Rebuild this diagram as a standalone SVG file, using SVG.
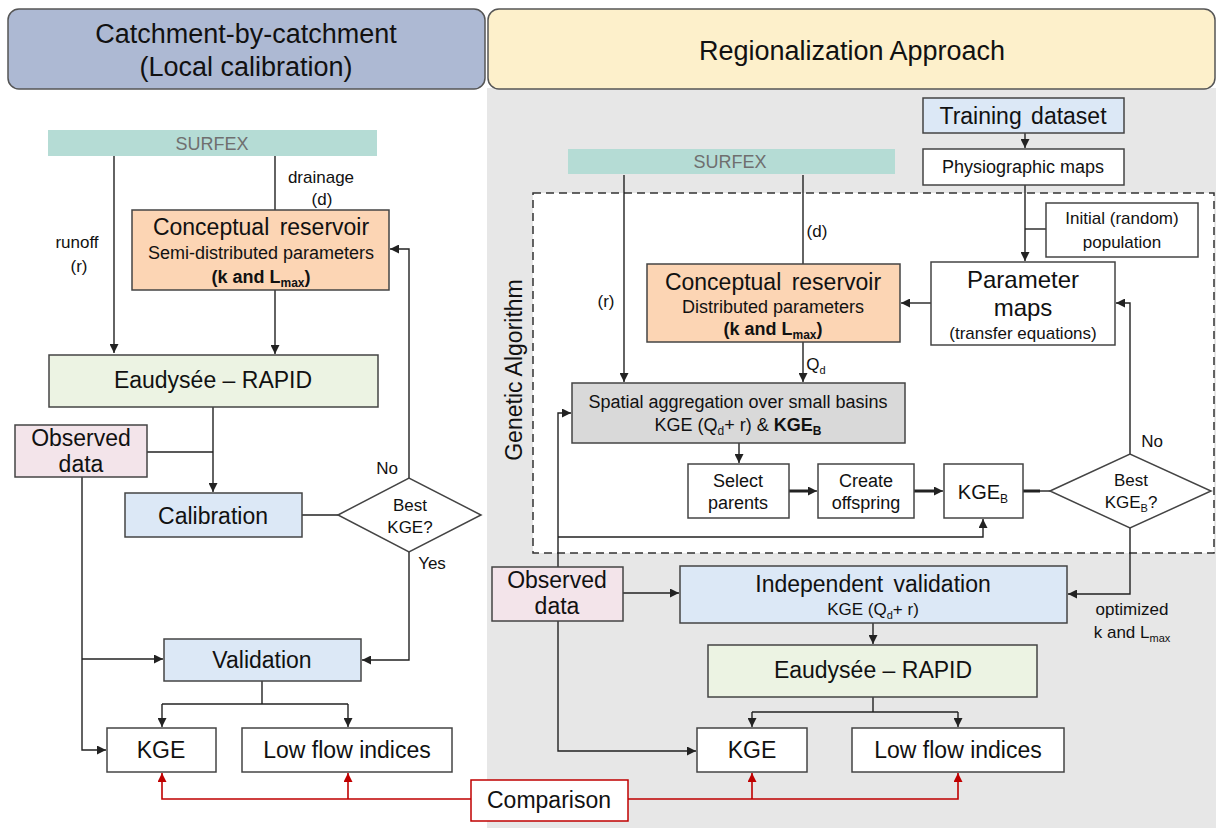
<svg xmlns="http://www.w3.org/2000/svg" width="1216" height="828" viewBox="0 0 1216 828">
<defs>
<marker id="ah" viewBox="0 0 10 10" refX="10" refY="5" markerWidth="9" markerHeight="9" markerUnits="userSpaceOnUse" orient="auto"><path d="M0,0 L10,5 L0,10 z" fill="#222"/></marker>
<marker id="ahr" viewBox="0 0 10 10" refX="10" refY="5" markerWidth="9" markerHeight="9" markerUnits="userSpaceOnUse" orient="auto"><path d="M0,0 L10,5 L0,10 z" fill="#c00000"/></marker>
<style>
text{font-family:"Liberation Sans",Arial,sans-serif;fill:#111;text-anchor:middle}
.box{stroke:#444;stroke-width:1.5}
.hdr{stroke:#555;stroke-width:1.5}
.c{fill:none;stroke:#222;stroke-width:1.4}
.ct{fill:none;stroke:#222;stroke-width:3}
.r{fill:none;stroke:#c00000;stroke-width:1.6}
.f27{font-size:27px}
.f23{font-size:23px}
.f24{font-size:24px}
.f20{font-size:20px}
.f18{font-size:18px}
.f17{font-size:17px}
.b{font-weight:bold}
.sx{font-size:18px;fill:#6f6f6f}
</style>
</defs>
<rect x="0" y="0" width="1216" height="828" fill="#ffffff"/>
<rect x="487" y="88" width="729" height="740" fill="#e7e7e7"/>

<g id="header-left"><rect class="hdr" x="8" y="9" width="477" height="80" rx="11" fill="#adb9d3"/><text class="f27" x="246" y="43">Catchment-by-catchment</text><text class="f27" x="246" y="76">(Local calibration)</text></g>
<g id="header-right"><rect class="hdr" x="488" y="9" width="727" height="80" rx="11" fill="#fdf0cb"/><text class="f27" x="852" y="60">Regionalization Approach</text></g>

<rect id="ga-frame" x="533" y="193" width="681" height="360" fill="#ffffff" stroke="#333" stroke-width="1.5" stroke-dasharray="8,5"/>
<text class="f23" transform="translate(522,370) rotate(-90)">Genetic Algorithm</text>

<g id="connectors">
<path class="c" d="M114 156 V353" marker-end="url(#ah)"/>
<path class="c" d="M275 156 V210"/>
<path class="c" d="M275 290 V354" marker-end="url(#ah)"/>
<path class="c" d="M213 407 V492" marker-end="url(#ah)"/>
<path class="c" d="M147 452 H213"/>
<path class="c" d="M302 515 H338"/>
<path class="c" d="M409 478 V249 H390" marker-end="url(#ah)"/>
<path class="c" d="M409 552 V660 H362" marker-end="url(#ah)"/>
<path class="c" d="M82 477 V750 H106" marker-end="url(#ah)"/>
<path class="c" d="M82 659 H163" marker-end="url(#ah)"/>
<path class="c" d="M262 681 V704"/>
<path class="c" d="M162 704 H348"/>
<path class="c" d="M162 704 V727" marker-end="url(#ah)"/>
<path class="c" d="M348 704 V727" marker-end="url(#ah)"/>
<path class="c" d="M624 175 V382" marker-end="url(#ah)"/>
<path class="c" d="M803 175 V264"/>
<path class="c" d="M803 342 V382" marker-end="url(#ah)"/>
<path class="c" d="M1025 133 V148" marker-end="url(#ah)"/>
<path class="c" d="M1025 185 V261" marker-end="url(#ah)"/>
<path class="c" d="M1046 229 H1025"/>
<path class="c" d="M931 303 H901" marker-end="url(#ah)"/>
<path class="c" d="M739 443 V463" marker-end="url(#ah)"/>
<path class="ct" d="M789 491 H810"/>
<path class="c" d="M805 491 H817" marker-end="url(#ah)"/>
<path class="ct" d="M914 491 H936"/>
<path class="c" d="M930 491 H943" marker-end="url(#ah)"/>
<path class="ct" d="M1023 491 H1040" stroke="#555"/>
<path class="c" d="M1038 491 H1050"/>
<path class="c" d="M1130 454 V303 H1116" marker-end="url(#ah)"/>
<path class="c" d="M1130 528 V594 H1068" marker-end="url(#ah)"/>
<path class="c" d="M558 567 V413 H571" marker-end="url(#ah)"/>
<path class="c" d="M558 537 H983 V519" marker-end="url(#ah)"/>
<path class="c" d="M623 593 H679" marker-end="url(#ah)"/>
<path class="c" d="M873 623 V644" marker-end="url(#ah)"/>
<path class="c" d="M558 621 V751 H696" marker-end="url(#ah)"/>
<path class="c" d="M873 697 V712"/>
<path class="c" d="M752 712 H958"/>
<path class="c" d="M752 712 V727" marker-end="url(#ah)"/>
<path class="c" d="M958 712 V727" marker-end="url(#ah)"/>
<path class="r" d="M471 799 H162 V773" marker-end="url(#ahr)"/>
<path class="r" d="M348 799 V773" marker-end="url(#ahr)"/>
<path class="r" d="M628 799 H958 V773" marker-end="url(#ahr)"/>
<path class="r" d="M752 799 V773" marker-end="url(#ahr)"/>
</g>

<g id="labels">
<text class="f17" x="77" y="248">runoff</text><text class="f17" x="79" y="272">(r)</text>
<text class="f17" x="321" y="183">drainage</text><text class="f17" x="322" y="205">(d)</text>
<text class="f17" x="387" y="474">No</text>
<text class="f17" x="432" y="569">Yes</text>
<text class="f17" x="606" y="307">(r)</text>
<text class="f17" x="817" y="237">(d)</text>
<text class="f17" x="816" y="370">Q<tspan font-size="11" dy="4">d</tspan></text>
<text class="f17" x="1152" y="447">No</text>
<text class="f17" x="1132" y="615">optimized</text>
<text class="f17" x="1132" y="638">k and L<tspan font-size="11" dy="4">max</tspan></text>
</g>

<g id="surfex-left"><rect x="48" y="130" width="329" height="26" fill="#b5dcd5"/><text class="sx" x="212" y="150">SURFEX</text></g>
<g id="reservoir-left"><rect class="box" x="132" y="210" width="257" height="80" fill="#fcd5b4"/><text class="f23" x="261" y="235" word-spacing="4">Conceptual reservoir</text><text class="f18" x="261" y="259">Semi-distributed parameters</text><text class="f18 b" x="261" y="283">(k and L<tspan font-size="12" dy="4">max</tspan><tspan dy="-4">)</tspan></text></g>
<g id="eaudysee-left"><rect class="box" x="49" y="355" width="329" height="52" fill="#ecf3e3"/><text class="f23" x="213" y="388">Eaudysée – RAPID</text></g>
<g id="observed-left"><rect class="box" x="15" y="425" width="132" height="52" fill="#f3e4ea"/><text class="f23" x="81" y="446">Observed</text><text class="f23" x="81" y="472">data</text></g>
<g id="calibration"><rect class="box" x="125" y="493" width="177" height="44" fill="#dce8f6"/><text class="f23" x="213" y="524">Calibration</text></g>
<g id="decision-left"><path class="box" d="M338 515 L409 478 L481 515 L409 552 Z" fill="#ffffff"/><text class="f17" x="410" y="511">Best</text><text class="f17" x="410" y="533">KGE?</text></g>
<g id="validation"><rect class="box" x="164" y="639" width="197" height="42" fill="#dce8f6"/><text class="f23" x="262" y="668">Validation</text></g>
<g id="kge-left"><rect class="box" x="107" y="728" width="109" height="44" fill="#ffffff"/><text class="f23" x="161" y="758">KGE</text></g>
<g id="lowflow-left"><rect class="box" x="242" y="728" width="210" height="44" fill="#ffffff"/><text class="f23" x="347" y="758">Low flow indices</text></g>
<g id="comparison"><rect x="471" y="780" width="157" height="41" fill="#ffffff" stroke="#c00000" stroke-width="1.5"/><text class="f23" x="549" y="808">Comparison</text></g>

<g id="training"><rect class="box" x="923" y="98" width="201" height="35" fill="#dce8f6"/><text class="f23" x="1023" y="124" word-spacing="3">Training dataset</text></g>
<g id="physio"><rect class="box" x="923" y="149" width="201" height="36" fill="#ffffff"/><text class="f18" x="1023" y="173">Physiographic maps</text></g>
<g id="initial"><rect class="box" x="1046" y="203" width="152" height="54" fill="#ffffff"/><text class="f17" x="1122" y="224">Initial (random)</text><text class="f17" x="1122" y="248">population</text></g>
<g id="surfex-right"><rect x="568" y="149" width="327" height="25" fill="#b5dcd5"/><text class="sx" x="730" y="168">SURFEX</text></g>
<g id="reservoir-right"><rect class="box" x="647" y="264" width="253" height="78" fill="#fcd5b4"/><text class="f23" x="773" y="290" word-spacing="4">Conceptual reservoir</text><text class="f18" x="773" y="313">Distributed parameters</text><text class="f18 b" x="773" y="335">(k and L<tspan font-size="12" dy="4">max</tspan><tspan dy="-4">)</tspan></text></g>
<g id="parammaps"><rect class="box" x="931" y="262" width="184" height="83" fill="#ffffff"/><text class="f24" x="1023" y="288">Parameter</text><text class="f24" x="1023" y="316">maps</text><text class="f17" x="1023" y="339">(transfer equations)</text></g>
<g id="spatial"><rect class="box" x="572" y="383" width="333" height="60" fill="#d9d9d9"/><text class="f18" x="738" y="408">Spatial aggregation over small basins</text><text class="f18" x="738" y="431">KGE (Q<tspan font-size="12" dy="4">d</tspan><tspan dy="-4">+ r) &amp; </tspan><tspan class="b">KGE</tspan><tspan class="b" font-size="12" dy="4">B</tspan></text></g>
<g id="select"><rect class="box" x="688" y="464" width="101" height="54" fill="#ffffff"/><text class="f18" x="738" y="487">Select</text><text class="f18" x="738" y="509">parents</text></g>
<g id="offspring"><rect class="box" x="818" y="464" width="96" height="54" fill="#ffffff"/><text class="f18" x="866" y="487">Create</text><text class="f18" x="866" y="509">offspring</text></g>
<g id="kgeb"><rect class="box" x="944" y="464" width="79" height="54" fill="#ffffff"/><text class="f20" x="983" y="499">KGE<tspan font-size="12" dy="4">B</tspan></text></g>
<g id="decision-right"><path class="box" d="M1050 491 L1130 454 L1211 491 L1130 528 Z" fill="#ffffff"/><text class="f17" x="1131" y="486">Best</text><text class="f17" x="1131" y="508">KGE<tspan font-size="11" dy="4">B</tspan><tspan dy="-4">?</tspan></text></g>
<g id="observed-right"><rect class="box" x="492" y="567" width="131" height="54" fill="#f3e4ea"/><text class="f23" x="557" y="588">Observed</text><text class="f23" x="557" y="614">data</text></g>
<g id="indval"><rect class="box" x="680" y="566" width="387" height="57" fill="#dce8f6"/><text class="f23" x="873" y="592" word-spacing="4">Independent validation</text><text class="f17" x="873" y="615">KGE (Q<tspan font-size="11" dy="4">d</tspan><tspan dy="-4">+ r)</tspan></text></g>
<g id="eaudysee-right"><rect class="box" x="708" y="645" width="329" height="52" fill="#ecf3e3"/><text class="f23" x="873" y="678">Eaudysée – RAPID</text></g>
<g id="kge-right"><rect class="box" x="697" y="728" width="110" height="44" fill="#ffffff"/><text class="f23" x="752" y="758">KGE</text></g>
<g id="lowflow-right"><rect class="box" x="852" y="728" width="212" height="44" fill="#ffffff"/><text class="f23" x="958" y="758">Low flow indices</text></g>
</svg>
